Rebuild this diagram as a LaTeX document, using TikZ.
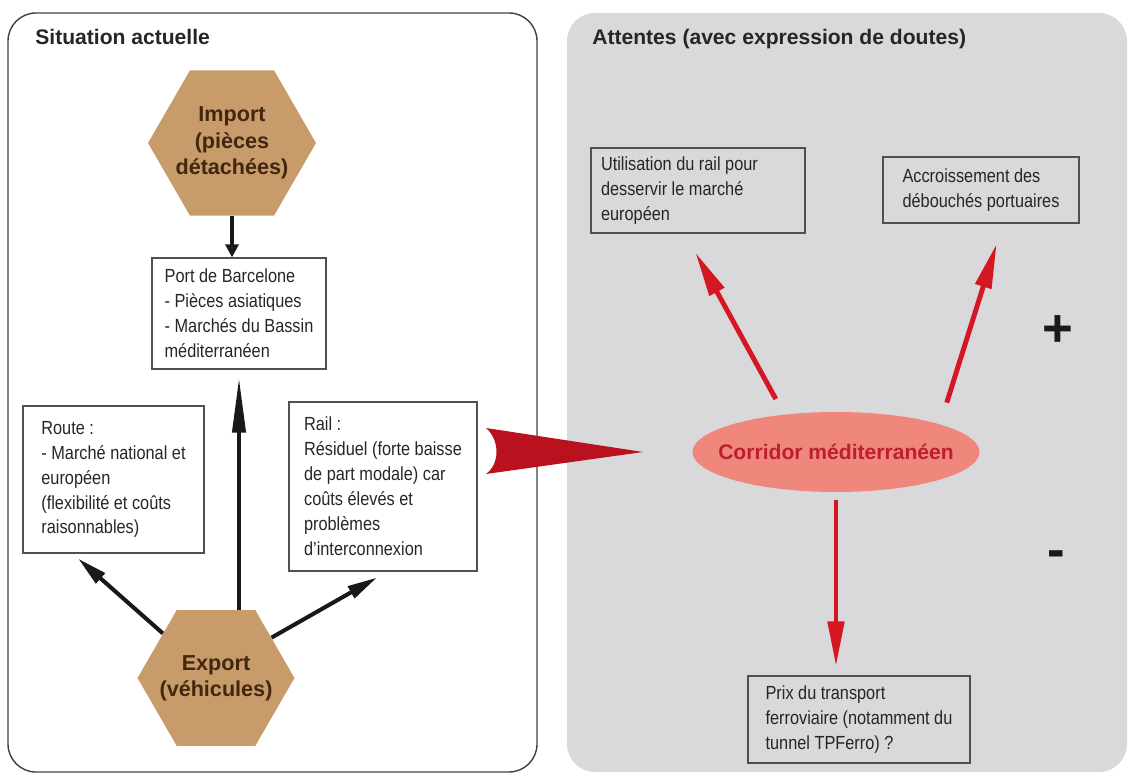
\documentclass[tikz,border=0pt]{standalone}
\usepackage{fontspec}
\setmainfont{Liberation Sans}
\newfontfamily\etroit[FakeStretch=0.86]{Liberation Sans}
\usepackage{tikz}
\usetikzlibrary{arrows.meta,positioning,shapes.geometric,calc}
\usepackage{xcolor}
\definecolor{cHexa}{RGB}{199,156,106}
\definecolor{cHexaTexte}{RGB}{66,38,16}
\definecolor{cPanneau}{RGB}{217,216,218}
\definecolor{cBord}{RGB}{80,80,80}
\definecolor{cCorr}{RGB}{240,135,125}
\definecolor{cCorrTexte}{RGB}{190,30,45}
\definecolor{cRouge}{RGB}{213,23,35}
\definecolor{cChevron}{RGB}{185,18,30}

\begin{document}
\begin{tikzpicture}[
  x=0.02cm, y=-0.02cm,
  titre/.style={anchor=base west, inner sep=0pt, text=black!85,
    font=\bfseries\fontsize{12}{14}\selectfont},
  hexa/.style={regular polygon, regular polygon sides=6, fill=cHexa, inner sep=0pt},
  hexatexte/.style={text=cHexaTexte, align=center,
    font=\bfseries\fontsize{12.3}{15}\selectfont},
  boite/.style={rectangle, draw=cBord, line width=0.7pt, align=flush left,
    text=black!85, inner xsep=0.2cm, font=\etroit\fontsize{10.8}{14.2}\selectfont},
  corridor/.style={ellipse, fill=cCorr, minimum width=5.74cm, minimum height=1.6cm},
  signe/.style={text=black!90, font=\bfseries\fontsize{30}{30}\selectfont},
  fleche/.style={-{Triangle[length=#1, width=2.6mm]}, line width=2.3pt, draw=black!90},
  fleche/.default=6mm,
  rouge/.style={-{Triangle[length=9mm, width=3.2mm]}, line width=2.8pt, draw=cRouge},
]
\useasboundingbox (0,0) rectangle (1132,776);
\draw[black!75, line width=0.8pt, rounded corners=0.56cm] (8,13) rectangle (537,772);
\fill[cPanneau, rounded corners=0.56cm] (567,13) rectangle (1127,772);
\node[titre] (t1) at (35,45) {Situation actuelle};
\node[titre] (t2) at (592,45) {Attentes (avec expression de doutes)};
\node[hexa, minimum size=3.36cm,
  label={[hexatexte]center:Import\\(pièces\\détachées)}] (imp) at (232,143) {};
\node[hexa, minimum size=3.14cm,
  label={[hexatexte]center:Export\\(véhicules)}] (exp) at (216,678) {};
\node[boite, minimum width=3.48cm, minimum height=2.22cm] (port) at (239,313.5)
  {Port de Barcelone\\- Pièces asiatiques\\- Marchés du Bassin\\méditerranéen};
\node[boite, minimum width=3.62cm, minimum height=2.94cm] (route) at (113.5,479.5)
  {Route :\\- Marché national et\\européen\\(flexibilité et coûts\\raisonnables)};
\node[boite, minimum width=3.76cm, minimum height=3.38cm] (rail) at (383,486.5)
  {Rail :\\Résiduel (forte baisse\\de part modale) car\\coûts élevés et\\problèmes\\d’interconnexion};
\node[boite, text width=3.88cm, minimum height=1.7cm] (util) at (698,190.5)
  {Utilisation du rail pour\\desservir le marché\\européen};
\node[boite, minimum width=3.92cm, minimum height=1.32cm] (accr) at (981,190)
  {Accroissement des\\débouchés portuaires};
\node[boite, minimum width=4.44cm, minimum height=1.74cm] (prix) at (859,719.5)
  {Prix du transport\\ferroviaire (notamment du\\tunnel TPFerro) ?};
\node[corridor, label={[text=cCorrTexte, font=\bfseries\fontsize{12}{14}\selectfont]center:Corridor méditerranéen}] (corr) at (836,452) {};
\node[signe] (plus) at (1058,331) {+};
\node[signe] (moins) at (1056,559) {-};
% fleches noires
\draw[fleche=2.6mm] (imp.south) -- (imp.south |- port.north);
\draw[fleche=11mm, shorten >=0.16cm] (port.south |- exp.north) -- (port.south);
\draw[fleche, shorten >=0.15cm] (exp.140) -- ([xshift=-0.82cm]route.south);
\draw[fleche, shorten >=0.24cm] (exp.36) -- ([xshift=0.09cm]rail.south);
% fleches rouges
\fill[cChevron] (486,428) .. controls (500,440) and (500,464) .. (486,474) -- (643,452) -- cycle;
\draw[rouge, shorten <=0.35cm, shorten >=0.43cm] (corr.144) -- ([xshift=-0.26cm]util.south);
\draw[rouge, shorten <=0.45cm, shorten >=0.42cm] (corr.15) -- ([xshift=0.44cm]accr.south);
\draw[rouge, shorten <=0.16cm, shorten >=0.18cm] (corr.south) -- (corr.south |- prix.north);
\end{tikzpicture}
\end{document}
